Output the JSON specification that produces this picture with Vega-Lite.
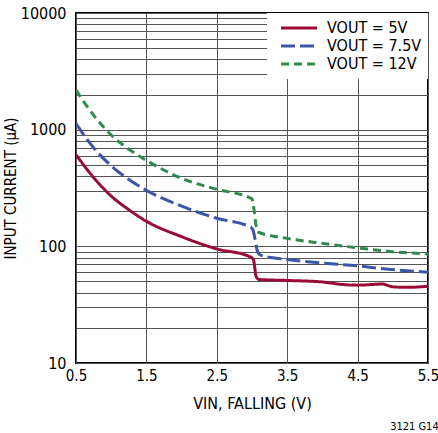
{
  "$schema": "https://vega.github.io/schema/vega-lite/v6.json",
  "autosize": "none",
  "width": 352,
  "height": 350,
  "padding": {"left": 76, "top": 13, "right": 10, "bottom": 70},
  "background": "white",
  "title": {"text": "3121 G14", "orient": "bottom", "anchor": "end", "fontSize": 11, "fontWeight": "normal", "font": "DejaVu Sans Condensed", "color": "black", "offset": 10},
  "config": {
    "font": "DejaVu Sans Condensed",
    "view": {"stroke": "black", "strokeWidth": 2},
    "axis": {"labelFont": "DejaVu Sans Condensed", "titleFont": "DejaVu Sans Condensed", "labelColor": "black", "titleColor": "black", "titleFontWeight": "normal", "ticks": false, "domain": false, "gridColor": "#555", "gridOpacity": 1, "gridWidth": 1}
  },
  "data": {"values": [
    {"s": "VOUT = 5V", "v": 0.5, "i": 610},
    {"s": "VOUT = 5V", "v": 0.75, "i": 389},
    {"s": "VOUT = 5V", "v": 1.0, "i": 270},
    {"s": "VOUT = 5V", "v": 1.25, "i": 206},
    {"s": "VOUT = 5V", "v": 1.5, "i": 164},
    {"s": "VOUT = 5V", "v": 2.0, "i": 121},
    {"s": "VOUT = 5V", "v": 2.5, "i": 95},
    {"s": "VOUT = 5V", "v": 2.97, "i": 81.5},
    {"s": "VOUT = 5V", "v": 3.02, "i": 77},
    {"s": "VOUT = 5V", "v": 3.06, "i": 55},
    {"s": "VOUT = 5V", "v": 3.1, "i": 52},
    {"s": "VOUT = 5V", "v": 3.5, "i": 51},
    {"s": "VOUT = 5V", "v": 4.0, "i": 49.5},
    {"s": "VOUT = 5V", "v": 4.3, "i": 47},
    {"s": "VOUT = 5V", "v": 4.5, "i": 46.5},
    {"s": "VOUT = 5V", "v": 4.85, "i": 47.5},
    {"s": "VOUT = 5V", "v": 5.0, "i": 45},
    {"s": "VOUT = 5V", "v": 5.2, "i": 44.5},
    {"s": "VOUT = 5V", "v": 5.5, "i": 45.5},
    {"s": "VOUT = 7.5V", "v": 0.5, "i": 1130},
    {"s": "VOUT = 7.5V", "v": 0.75, "i": 700},
    {"s": "VOUT = 7.5V", "v": 1.0, "i": 490},
    {"s": "VOUT = 7.5V", "v": 1.25, "i": 374},
    {"s": "VOUT = 7.5V", "v": 1.5, "i": 302},
    {"s": "VOUT = 7.5V", "v": 2.0, "i": 221},
    {"s": "VOUT = 7.5V", "v": 2.5, "i": 174},
    {"s": "VOUT = 7.5V", "v": 2.97, "i": 147},
    {"s": "VOUT = 7.5V", "v": 3.01, "i": 140},
    {"s": "VOUT = 7.5V", "v": 3.08, "i": 90},
    {"s": "VOUT = 7.5V", "v": 3.12, "i": 84},
    {"s": "VOUT = 7.5V", "v": 3.5, "i": 77},
    {"s": "VOUT = 7.5V", "v": 4.0, "i": 72},
    {"s": "VOUT = 7.5V", "v": 4.5, "i": 68},
    {"s": "VOUT = 7.5V", "v": 4.9, "i": 64},
    {"s": "VOUT = 7.5V", "v": 5.5, "i": 60},
    {"s": "VOUT = 12V", "v": 0.5, "i": 2180},
    {"s": "VOUT = 12V", "v": 0.75, "i": 1330},
    {"s": "VOUT = 12V", "v": 1.0, "i": 900},
    {"s": "VOUT = 12V", "v": 1.25, "i": 680},
    {"s": "VOUT = 12V", "v": 1.5, "i": 545},
    {"s": "VOUT = 12V", "v": 2.0, "i": 383},
    {"s": "VOUT = 12V", "v": 2.5, "i": 308},
    {"s": "VOUT = 12V", "v": 2.97, "i": 260},
    {"s": "VOUT = 12V", "v": 3.0, "i": 254},
    {"s": "VOUT = 12V", "v": 3.08, "i": 133},
    {"s": "VOUT = 12V", "v": 3.5, "i": 117},
    {"s": "VOUT = 12V", "v": 4.0, "i": 106},
    {"s": "VOUT = 12V", "v": 4.5, "i": 97},
    {"s": "VOUT = 12V", "v": 5.0, "i": 90},
    {"s": "VOUT = 12V", "v": 5.5, "i": 86}
  ]},
  "layer": [
    {
      "mark": {"type": "line", "strokeWidth": 3, "clip": true, "interpolate": "monotone"},
      "encoding": {
        "x": {"field": "v", "type": "quantitative", "scale": {"domain": [0.5, 5.5], "nice": false, "zero": false},
          "axis": {"values": [0.5, 1.5, 2.5, 3.5, 4.5, 5.5], "format": ".1f", "labelFlush": false, "labelFontSize": 15, "labelPadding": 5, "title": "VIN, FALLING (V)", "titleFontSize": 16, "titlePadding": 12}},
        "y": {"field": "i", "type": "quantitative", "scale": {"type": "log", "domain": [10, 10000], "nice": false},
          "axis": {"values": [10,20,30,40,50,60,70,80,90,100,200,300,400,500,600,700,800,900,1000,2000,3000,4000,5000,6000,7000,8000,9000,10000], "format": "d", "labelExpr": "indexof([10,100,1000,10000], datum.value) >= 0 ? datum.label : ''", "labelFontSize": 16, "labelPadding": 10, "title": "INPUT CURRENT (μA)", "titleFontSize": 15, "titlePadding": 2}},
        "color": {"field": "s", "type": "nominal", "sort": ["VOUT = 5V", "VOUT = 7.5V", "VOUT = 12V"],
          "scale": {"domain": ["VOUT = 5V", "VOUT = 7.5V", "VOUT = 12V"], "range": ["#9a0a34", "#3a56a8", "#2f8a4e"]},
          "legend": {"title": null, "orient": "top-right", "offset": 0, "fillColor": "white", "padding": 6, "symbolType": "stroke", "symbolStrokeWidth": 3, "symbolSize": 1300, "clipHeight": 18, "labelFontSize": 16, "labelFont": "DejaVu Sans Condensed", "labelColor": "black", "rowPadding": 0, "symbolOffset": 6, "labelOffset": 8}},
        "strokeDash": {"field": "s", "type": "nominal", "sort": ["VOUT = 5V", "VOUT = 7.5V", "VOUT = 12V"],
          "scale": {"domain": ["VOUT = 5V", "VOUT = 7.5V", "VOUT = 12V"], "range": [[1, 0], [14, 5], [8, 5]]},
          "legend": {"title": null}}
      }
    }
  ]
}
